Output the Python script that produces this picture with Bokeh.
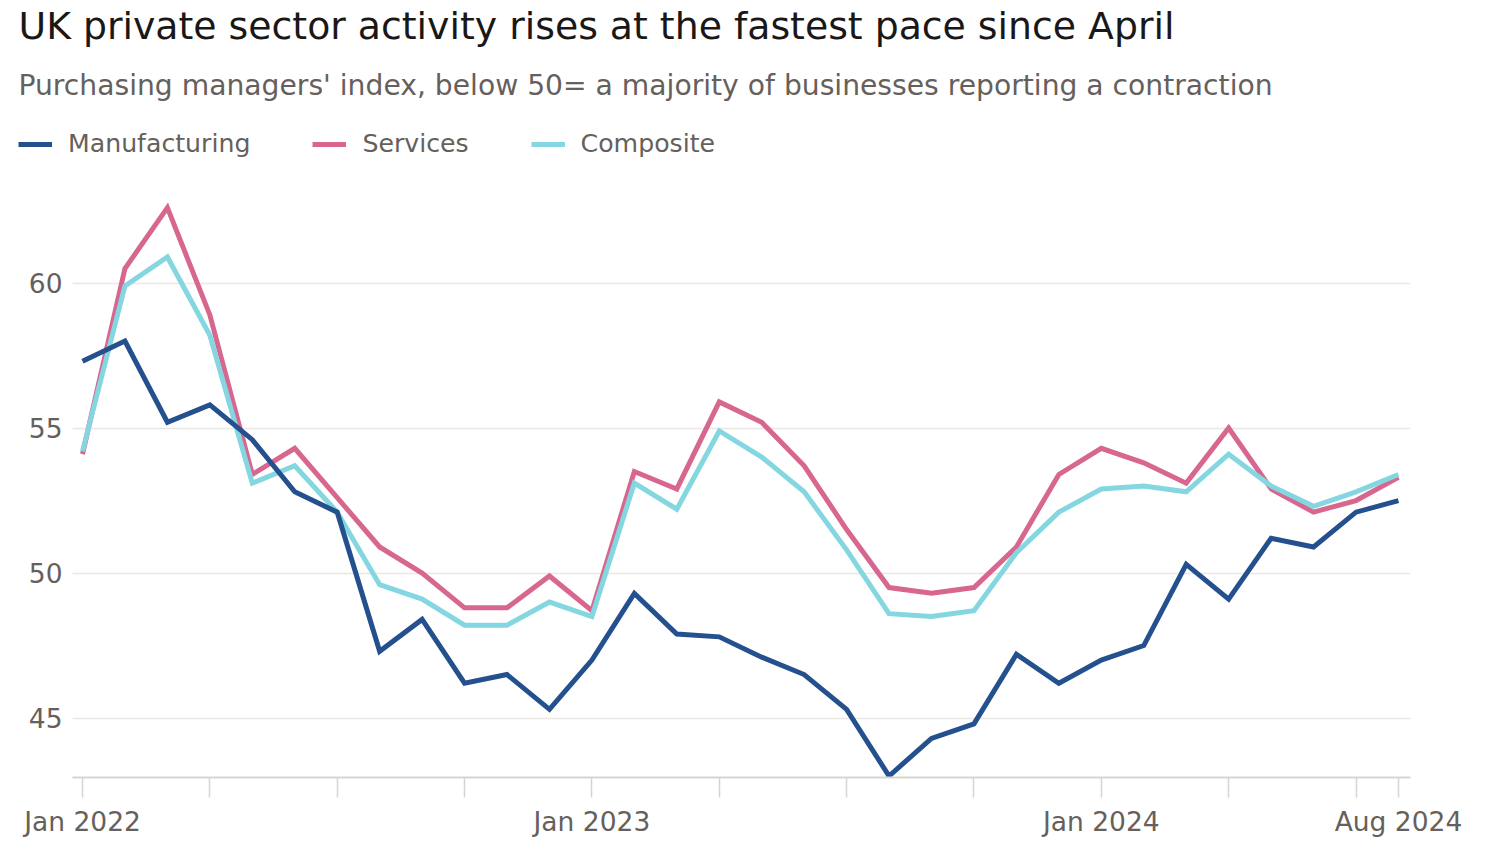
from bokeh.plotting import figure
from bokeh.models import Range1d, FixedTicker, Legend, LegendItem, Label
from bokeh.embed import file_html
from bokeh.resources import INLINE

# ---------------- data ----------------
months = [
    "Jan 2022", "Feb 2022", "Mar 2022", "Apr 2022", "May 2022", "Jun 2022",
    "Jul 2022", "Aug 2022", "Sep 2022", "Oct 2022", "Nov 2022", "Dec 2022",
    "Jan 2023", "Feb 2023", "Mar 2023", "Apr 2023", "May 2023", "Jun 2023",
    "Jul 2023", "Aug 2023", "Sep 2023", "Oct 2023", "Nov 2023", "Dec 2023",
    "Jan 2024", "Feb 2024", "Mar 2024", "Apr 2024", "May 2024", "Jun 2024",
    "Jul 2024", "Aug 2024",
]
manufacturing = [57.3, 58.0, 55.2, 55.8, 54.6, 52.8, 52.1, 47.3, 48.4, 46.2, 46.5, 45.3,
                 47.0, 49.3, 47.9, 47.8, 47.1, 46.5, 45.3, 43.0, 44.3, 44.8, 47.2, 46.2,
                 47.0, 47.5, 50.3, 49.1, 51.2, 50.9, 52.1, 52.5]
services = [54.1, 60.5, 62.6, 58.9, 53.4, 54.3, 52.6, 50.9, 50.0, 48.8, 48.8, 49.9,
            48.7, 53.5, 52.9, 55.9, 55.2, 53.7, 51.5, 49.5, 49.3, 49.5, 50.9, 53.4,
            54.3, 53.8, 53.1, 55.0, 52.9, 52.1, 52.5, 53.3]
composite = [54.2, 59.9, 60.9, 58.2, 53.1, 53.7, 52.1, 49.6, 49.1, 48.2, 48.2, 49.0,
             48.5, 53.1, 52.2, 54.9, 54.0, 52.8, 50.8, 48.6, 48.5, 48.7, 50.7, 52.1,
             52.9, 53.0, 52.8, 54.1, 53.0, 52.3, 52.8, 53.4]
series_names = ["Manufacturing", "Services", "Composite"]
x_tick_months = ["Jan 2022", "Apr 2022", "Jul 2022", "Oct 2022", "Jan 2023", "Apr 2023",
                 "Jul 2023", "Oct 2023", "Jan 2024", "Apr 2024", "Jul 2024", "Aug 2024"]
x_labelled = ["Jan 2022", "Jan 2023", "Jan 2024", "Aug 2024"]
y_ticks = [45, 50, 55, 60]

title_text = "UK private sector activity rises at the fastest pace since April"
subtitle_text = "Purchasing managers' index, below 50= a majority of businesses reporting a contraction"

# ---------------- styling ----------------
FONT = "DejaVu Sans"
C_MAN = "#24508e"
C_SER = "#d7678e"
C_COM = "#84d6e0"
TXT_GREY = "#66605c"
GRID = "#ebe8e4"
AXIS = "#d9d4cf"

W, H = 1500, 850
FRAME_L, FRAME_R, FRAME_B = 18, 1410, 777      # frame edges (px)
PLOT_L = 72                                    # visual left edge of axis / grid
PX_PER_MONTH = 42.45
FIRST_X_PX = 82
PX_PER_UNIT = 29.0
Y0 = 42.95

x = list(range(len(months)))
x_start = -(FIRST_X_PX - FRAME_L) / PX_PER_MONTH
x_end = x_start + (FRAME_R - FRAME_L) / PX_PER_MONTH
x_vis_start = -(FIRST_X_PX - PLOT_L) / PX_PER_MONTH
y_end = Y0 + FRAME_B / PX_PER_UNIT

p = figure(width=W, height=H, output_backend="svg", toolbar_location=None,
           min_border_left=FRAME_L, min_border_right=W - FRAME_R, min_border_top=0,
           min_border_bottom=H - FRAME_B,
           x_range=Range1d(x_start, x_end), y_range=Range1d(Y0, y_end))
p.outline_line_color = None
p.background_fill_color = "white"
p.border_fill_color = "white"

r_ser = p.line(x, services, line_color=C_SER, line_width=5, line_join="miter")
r_com = p.line(x, composite, line_color=C_COM, line_width=5, line_join="miter")
r_man = p.line(x, manufacturing, line_color=C_MAN, line_width=5, line_join="miter")

# x axis
tick_idx = [months.index(m) for m in x_tick_months]
p.xaxis.ticker = FixedTicker(ticks=tick_idx)
p.xaxis.bounds = (x_vis_start, x_end)
p.xaxis.major_label_overrides = {i: (months[i] if months[i] in x_labelled else "") for i in tick_idx}
p.xaxis.axis_line_color = AXIS
p.xaxis.axis_line_width = 2
p.xaxis.major_tick_line_color = AXIS
p.xaxis.major_tick_line_width = 1.5
p.xaxis.major_tick_out = 20
p.xaxis.major_tick_in = 0
p.xaxis.minor_tick_line_color = None
p.xaxis.major_label_standoff = 8
p.xaxis.major_label_text_font = FONT
p.xaxis.major_label_text_font_size = "26.5px"
p.xaxis.major_label_text_color = TXT_GREY
p.xgrid.grid_line_color = None

# y axis: labels drawn just left of the visual plot edge
p.yaxis.ticker = FixedTicker(ticks=y_ticks)
p.yaxis.axis_line_color = None
p.yaxis.major_tick_line_color = None
p.yaxis.minor_tick_line_color = None
p.yaxis.major_tick_out = 0
p.yaxis.major_tick_in = 0
p.yaxis.major_label_standoff = -(PLOT_L - 10 - FRAME_L)
p.yaxis.major_label_text_font = FONT
p.yaxis.major_label_text_font_size = "26.5px"
p.yaxis.major_label_text_color = TXT_GREY
p.ygrid.grid_line_color = GRID
p.ygrid.grid_line_width = 1.5
for g in p.ygrid:
    if "cross_bounds" in g.properties():
        g.cross_bounds = (x_vis_start, x_end)

# titles (screen units relative to the frame, origin at its bottom-left)
p.add_layout(Label(x=0, y=FRAME_B - 25, x_units="screen", y_units="screen",
                   text=title_text, text_font=FONT, text_font_size="37.8px",
                   text_color="#1a1817", text_baseline="middle"))
p.add_layout(Label(x=0, y=FRAME_B - 85, x_units="screen", y_units="screen",
                   text=subtitle_text, text_font=FONT, text_font_size="28.2px",
                   text_color=TXT_GREY, text_baseline="middle"))

legend = Legend(items=[LegendItem(label=series_names[0], renderers=[r_man]),
                       LegendItem(label=series_names[1], renderers=[r_ser]),
                       LegendItem(label=series_names[2], renderers=[r_com])],
                location=(0, FRAME_B - 158), orientation="horizontal",
                glyph_width=34, glyph_height=20, label_standoff=16, spacing=62,
                padding=0, margin=0, border_line_color=None, background_fill_alpha=0,
                label_text_font=FONT, label_text_font_size="25.2px",
                label_text_color=TXT_GREY)
p.add_layout(legend, "center")

open("out.html", "w").write(file_html(p, INLINE))
